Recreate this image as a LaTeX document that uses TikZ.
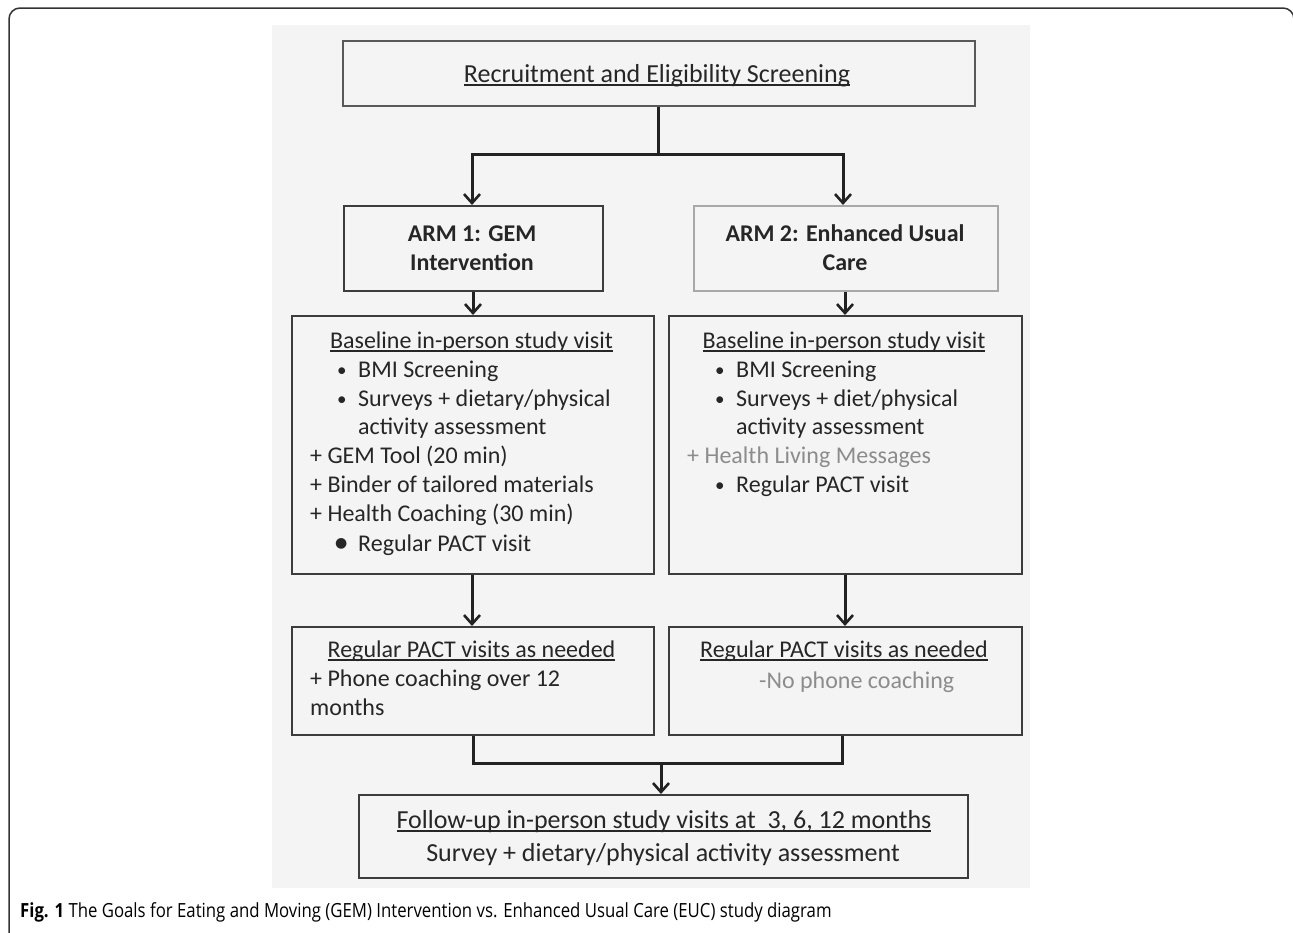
\documentclass[tikz,border=0pt]{standalone}
\usepackage{fontspec}
\setmainfont{Carlito}
\newfontfamily\capfont[FakeStretch=0.86]{Open Sans}
\newfontfamily\symfont{DejaVu Sans}
\usetikzlibrary{arrows.meta}
\definecolor{panel}{HTML}{F4F4F4}
\definecolor{txtc}{HTML}{262626}
\definecolor{graytxt}{HTML}{8C8C8C}
\definecolor{boxline}{HTML}{3C3C3C}
\definecolor{lightline}{HTML}{A8A8A8}
\definecolor{connc}{HTML}{222222}
\definecolor{framec}{HTML}{333333}
\newcommand{\ulin}[1]{\setbox0\hbox{#1}\rlap{\vrule height -2pt depth 3.6pt width \wd0}\box0}
\newcommand{\bul}{\makebox[21pt][l]{\raisebox{1pt}{\fontsize{19}{19}\selectfont\textbullet}}}
\newcommand{\bigbul}{\makebox[23pt][l]{\raisebox{3.2pt}{\symfont\fontsize{14}{14}\selectfont ●}}}
\begin{document}
\begin{tikzpicture}[x=1pt,y=-1pt,
  box/.style={draw=boxline, line width=1.6pt, inner sep=0pt, anchor=north west},
  body/.style={inner sep=0pt, anchor=base west, text=txtc, font=\fontsize{24}{29}\selectfont},
  bodyc/.style={body, anchor=base},
  big/.style={inner sep=0pt, anchor=base, text=txtc, font=\fontsize{26}{31}\selectfont},
  armtxt/.style={inner sep=0pt, anchor=base, text=txtc, font=\bfseries\fontsize{24}{29}\selectfont},
  conn/.style={draw=connc, line width=3pt},
  arr/.style={conn, -{Straight Barb[length=9pt,width=16pt,line width=2.6pt]}}
]
\useasboundingbox (0,0) rectangle (1293,932);
\fill[white] (0,0) rectangle (1293,932);
% outer frame
\draw[framec, line width=1.5pt, rounded corners=11pt] (9,940) -- (9,8) -- (1294,8) -- (1294,60);
% panel
\fill[panel] (272,25) rectangle (1030,888);

% boxes
\node[box, minimum width=632pt, minimum height=65pt, draw=boxline!85] (top) at (342,40) {};
\node[box, minimum width=259pt, minimum height=85pt] (arm1) at (343,205) {};
\node[box, minimum width=304pt, minimum height=85pt, draw=lightline] (arm2) at (693,205) {};
\node[box, minimum width=362pt, minimum height=258pt] (base1) at (291,315) {};
\node[box, minimum width=353pt, minimum height=258pt] (base2) at (668,315) {};
\node[box, minimum width=362pt, minimum height=108pt] (pact1) at (291,626) {};
\node[box, minimum width=353pt, minimum height=108pt] (pact2) at (668,626) {};
\node[box, minimum width=609pt, minimum height=83pt] (fu) at (358,794) {};

% texts
\node[big] (ttop) at (657,82) {\ulin{Recruitment and Eligibility Screening}};

\node[armtxt] (a1a) at (472,241) {ARM 1: GEM};
\node[armtxt] (a1b) at (472,270) {Intervention};
\node[armtxt] (a2a) at (845,241) {ARM 2: Enhanced Usual};
\node[armtxt] (a2b) at (845,270) {Care};

\node[bodyc] (b1t) at (471.5,348) {\ulin{Baseline in-person study visit}};
\node[body] (b1l1) at (337,377) {\bul BMI Screening};
\node[body] (b1l2) at (337,406) {\bul Surveys + dietary/physical};
\node[body] (b1l3) at (358,434.5) {activity assessment};
\node[body] (b1l4) at (310,463.5) {+ GEM Tool (20 min)};
\node[body] (b1l5) at (310,492.5) {+ Binder of tailored materials};
\node[body] (b1l6) at (310,521) {+ Health Coaching (30 min)};
\node[body] (b1l7) at (335,551) {\bigbul Regular PACT visit};

\node[bodyc] (b2t) at (844,348) {\ulin{Baseline in-person study visit}};
\node[body] (b2l1) at (715,377) {\bul BMI Screening};
\node[body] (b2l2) at (715,406) {\bul Surveys + diet/physical};
\node[body] (b2l3) at (736,434.5) {activity assessment};
\node[body, text=graytxt] (b2l4) at (687,463.5) {+ Health Living Messages};
\node[body] (b2l5) at (715,492.5) {\bul Regular PACT visit};

\node[bodyc] (p1t) at (471.5,657) {\ulin{Regular PACT visits as needed}};
\node[body] (p1l1) at (310,686) {+ Phone coaching over 12};
\node[body] (p1l2) at (310,715) {months};
\node[bodyc] (p2t) at (844,657) {\ulin{Regular PACT visits as needed}};
\node[body, text=graytxt] (p2l1) at (759,688) {-No phone coaching};

\node[big] (fut) at (664,828) {\ulin{Follow-up in-person study visits at\ \ 3, 6, 12 months}};
\node[big] (fub) at (663,861) {Survey + dietary/physical activity assessment};

% caption
\node[inner sep=0pt, anchor=base west, text=black, font=\capfont\fontsize{19.5}{23}\selectfont] (cap) at (20,917)
  {\textbf{Fig. 1} The Goals for Eating and Moving (GEM) Intervention vs. Enhanced Usual Care (EUC) study diagram};

% connectors
\coordinate (j1) at (658,154);
\draw[conn] (top.south -| j1) -- (j1);
\draw[arr] (j1) -| (arm1.north -| 472,0);
\draw[arr] (j1) -| (arm2.north -| 843,0);
\draw[arr] (arm1.south -| 473,0) -- (base1.north -| 473,0);
\draw[arr] (arm2.south -| 845,0) -- (base2.north -| 845,0);
\draw[arr] (base1.south -| 472,0) -- (pact1.north -| 472,0);
\draw[arr] (base2.south -| 845,0) -- (pact2.north -| 845,0);
\coordinate (j2) at (661,763);
\draw[conn] (pact1.south -| 473,0) |- (j2);
\draw[conn] (pact2.south -| 842,0) |- (j2);
\draw[arr] (j2) -- (fu.north -| j2);
\end{tikzpicture}
\end{document}
